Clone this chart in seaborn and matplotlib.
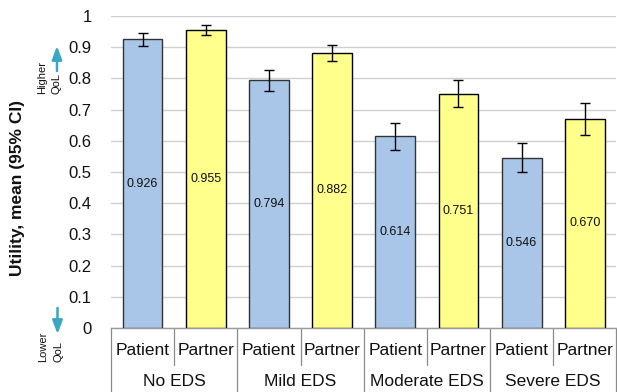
import matplotlib
matplotlib.use("Agg")
import matplotlib.pyplot as plt
import seaborn as sns
import pandas as pd
from matplotlib.transforms import blended_transform_factory

groups = ["No EDS", "Mild EDS", "Moderate EDS", "Severe EDS"]
roles = ["Patient", "Partner"]
values = [0.926, 0.955, 0.794, 0.882, 0.614, 0.751, 0.546, 0.670]
ci_low = [0.903, 0.939, 0.760, 0.855, 0.571, 0.707, 0.499, 0.620]
ci_high = [0.946, 0.970, 0.826, 0.906, 0.656, 0.796, 0.592, 0.720]
value_labels = ["0.926", "0.955", "0.794", "0.882", "0.614", "0.751", "0.546", "0.670"]
yticks = [0, 0.1, 0.2, 0.3, 0.4, 0.5, 0.6, 0.7, 0.8, 0.9, 1]
ytick_labels = ["0", "0.1", "0.2", "0.3", "0.4", "0.5", "0.6", "0.7", "0.8", "0.9", "1"]

sns.set_theme(style="white")
plt.rcParams["font.family"] = ["Liberation Sans", "DejaVu Sans"]

keys, role_col = [], []
for g in groups:
    for r in roles:
        keys.append(f"{g}|{r}")
        role_col.append(r)
df = pd.DataFrame({"key": keys, "role": role_col, "value": values})

fig = plt.figure(figsize=(6.17, 3.92), dpi=100)
ax = fig.add_axes([111 / 617, 64 / 392, 1 - 111 / 617 - 0.001, 312 / 392])

sns.barplot(data=df, x="key", y="value", hue="role", order=keys,
            palette={"Patient": "#a9c6e8", "Partner": "#ffff8c"}, saturation=1,
            dodge=False, width=0.63, edgecolor="black", linewidth=1,
            legend=False, errorbar=None, ax=ax, zorder=3)
for p in ax.patches:
    fc = p.get_facecolor()
    if fc[2] > 0.8:
        p.set_edgecolor("#333333")

pos = list(ax.get_xticks())
yerr = [[v - lo for v, lo in zip(values, ci_low)], [hi - v for v, hi in zip(values, ci_high)]]
ax.errorbar(pos, values, yerr=yerr, fmt="none", ecolor="black", elinewidth=1,
            capsize=3.5, capthick=1, zorder=4)

for x, v, lab in zip(pos, values, value_labels):
    ax.text(x, v / 2, lab, ha="center", va="center", fontsize=9, color="#111111", zorder=5)

ax.set_ylim(0, 1)
ax.set_xlim(-0.5, len(keys) - 0.5)
ax.set_yticks(yticks)
ax.set_yticklabels(ytick_labels, fontsize=12, color="#111111")
ax.tick_params(axis="y", length=0, pad=14)
ax.tick_params(axis="x", length=0, labelbottom=False)
ax.yaxis.grid(True, color="#d0d0d0", linewidth=1, zorder=0)
ax.set_axisbelow(True)
for s in ["top", "right", "left"]:
    ax.spines[s].set_visible(False)
ax.spines["bottom"].set_color("#9a9a9a")
ax.spines["bottom"].set_linewidth(1)
ax.set_xlabel("")
ax.set_ylabel("")

tr = blended_transform_factory(ax.transData, ax.transAxes)
line_kw = dict(color="#8a8a8a", linewidth=0.9, transform=tr, clip_on=False)
for i in range(len(keys) + 1):
    xb = i - 0.5
    if i % 2 == 0:
        ax.plot([xb, xb], [0, -0.21], **line_kw)
    else:
        ax.plot([xb, xb], [0, -0.1186], **line_kw)
for x, r in zip(pos, role_col):
    ax.text(x, -0.0737, r, ha="center", va="center", fontsize=12.5, color="#111111",
            transform=tr)
for gi, g in enumerate(groups):
    xc = (pos[2 * gi] + pos[2 * gi + 1]) / 2
    ax.text(xc, -0.170, g, ha="center", va="center", fontsize=12.5, color="#111111",
            transform=tr)

fig.text(18 / 617, 1 - 188 / 392, "Utility, mean (95% CI)", rotation=90, ha="center",
         va="center", fontsize=12.5, fontweight="bold", color="#111111")

arrow_color = "#3aa6c2"
arrow_kw = dict(arrowstyle="-|>,head_length=0.8,head_width=0.3", color=arrow_color,
                linewidth=1.8, shrinkA=0, shrinkB=0, mutation_scale=10)
fs_q = 8
fig.text(42 / 617, 1 - 77.5 / 392, "Higher", rotation=90, ha="center", va="center",
         fontsize=fs_q, color="#111111")
fig.text(57 / 617, 1 - 83.5 / 392, "QoL", rotation=90, ha="center", va="center",
         fontsize=fs_q, color="#111111")
fig.add_artist(matplotlib.patches.FancyArrowPatch(
    (57 / 617, 1 - 71 / 392), (57 / 617, 1 - 46 / 392), transform=fig.transFigure,
    **arrow_kw))
fig.text(43 / 617, 1 - 346.5 / 392, "Lower", rotation=90, ha="center", va="center",
         fontsize=fs_q, color="#111111")
fig.text(58 / 617, 1 - 351.5 / 392, "QoL", rotation=90, ha="center", va="center",
         fontsize=fs_q, color="#111111")
fig.add_artist(matplotlib.patches.FancyArrowPatch(
    (57.5 / 617, 1 - 308 / 392), (57.5 / 617, 1 - 334 / 392), transform=fig.transFigure,
    **arrow_kw))

fig.savefig("out.png", dpi=100)
